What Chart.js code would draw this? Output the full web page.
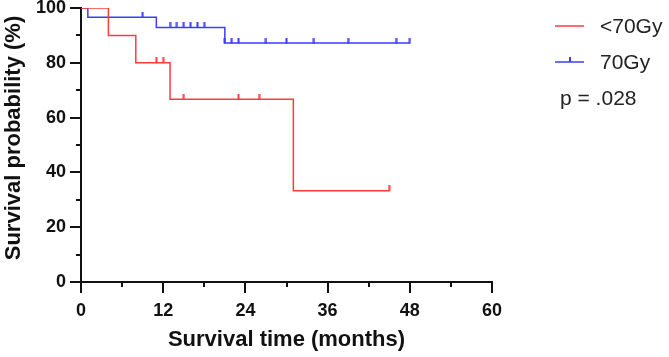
<!DOCTYPE html>
<html lang="en">
<head>
    <meta charset="UTF-8">
    <title>Survival curves</title>
    <script src="https://cdn.jsdelivr.net/npm/chart.js"></script>
    <style>
        body { margin: 0; background: #fff; }
        #wrap { width: 669px; height: 357px; }
    </style>
</head>
<body>
    <div id="wrap"><canvas id="kmChart" width="669" height="357"></canvas></div>
    <script>
        // Kaplan-Meier steps (months, %)
        var redTimes = [0, 4, 8, 13, 31, 45];
        var redSurv = [100, 90, 80, 66.7, 33.3, 33.3];
        var redCensor = [11, 12, 15, 23, 26, 45];

        var blueTimes = [0, 1, 11, 21, 48];
        var blueSurv = [100, 96.6, 92.9, 87.2, 87.2];
        var blueCensor = [9, 13, 14, 15, 16, 17, 18, 21, 22, 23, 27, 30, 34, 39, 46, 48];

        var xTicks = [0, 12, 24, 36, 48, 60];
        var yTicks = [0, 20, 40, 60, 80, 100];
        var groupNames = ['<70Gy', '70Gy'];
        var pText = 'p = .028';
        var yTitle = 'Survival probability (%)';

        var red = '#ff3c3c';
        var blue = '#3c3cff';
        var ink = '#111';
        var fam = '"Liberation Sans", Arial, sans-serif';

        // value of the step curve at time t
        function survAt(times, surv, t) {
            var v = surv[0];
            for (var i = 0; i < times.length; i++) {
                if (times[i] <= t) v = surv[i];
            }
            return v;
        }

        function stepPoints(times, surv) {
            return times.map(function (t, i) { return { x: t, y: surv[i] }; });
        }
        function censorPoints(ct, times, surv) {
            return ct.map(function (t) { return { x: t, y: survAt(times, surv, t) }; });
        }

        // small upward tick used as censor mark
        function tickImage(color) {
            var c = document.createElement('canvas');
            c.width = 3; c.height = 11;
            var g = c.getContext('2d');
            g.fillStyle = color;
            g.fillRect(0.5, 0, 2, 6);
            return c;
        }
        var redTick = tickImage(red);
        var blueTick = tickImage(blue);

        var axisTicks = {
            id: 'axisTicks',
            afterDraw: function (chart) {
                var g = chart.ctx;
                var xs = chart.scales.x, ys = chart.scales.y;
                var a = chart.chartArea;
                g.save();
                g.strokeStyle = ink;
                g.lineWidth = 2;
                xs.ticks.forEach(function (t) {
                    var px = Math.round(xs.getPixelForValue(t.value));
                    var len = xTicks.indexOf(t.value) >= 0 ? 11 : 5;
                    g.beginPath(); g.moveTo(px, a.bottom); g.lineTo(px, a.bottom + len); g.stroke();
                });
                ys.ticks.forEach(function (t) {
                    var py = Math.round(ys.getPixelForValue(t.value));
                    var len = yTicks.indexOf(t.value) >= 0 ? 11 : 5;
                    g.beginPath(); g.moveTo(a.left, py); g.lineTo(a.left - len, py); g.stroke();
                });

                // y title, a little above the axis centre as in the figure
                g.save();
                g.translate(14, 138);
                g.rotate(-Math.PI / 2);
                g.font = 'bold 22px ' + fam;
                g.fillStyle = ink;
                g.textAlign = 'center';
                g.textBaseline = 'middle';
                g.fillText(yTitle, 0, 0);
                g.restore();

                // legend
                var lx = 555, ly = [26, 62];
                var cols = [red, blue];
                g.font = '21px ' + fam;
                g.textBaseline = 'middle';
                g.textAlign = 'left';
                for (var i = 0; i < 2; i++) {
                    g.strokeStyle = cols[i];
                    g.lineWidth = 1.5;
                    g.beginPath(); g.moveTo(lx, ly[i]); g.lineTo(lx + 29, ly[i]); g.stroke();
                    if (i == 1) {
                        g.lineWidth = 2;
                        g.beginPath(); g.moveTo(lx + 15, ly[i]); g.lineTo(lx + 15, ly[i] - 5); g.stroke();
                    }
                    g.fillStyle = '#222';
                    g.fillText(groupNames[i], 600, ly[i] + 1);
                }
                g.fillText(pText, 560, 99);
                g.restore();
            }
        };

        const ctx = document.getElementById('kmChart').getContext('2d');
        const kmChart = new Chart(ctx, {
            type: 'line',
            data: {
                datasets: [
                    {
                        label: groupNames[0],
                        data: stepPoints(redTimes, redSurv),
                        borderColor: red,
                        borderWidth: 1.5,
                        stepped: 'before',
                        pointRadius: 0,
                        fill: false
                    },
                    {
                        label: groupNames[1],
                        data: stepPoints(blueTimes, blueSurv),
                        borderColor: blue,
                        borderWidth: 1.5,
                        stepped: 'before',
                        pointRadius: 0,
                        fill: false
                    },
                    {
                        label: 'censor1',
                        data: censorPoints(redCensor, redTimes, redSurv),
                        showLine: false,
                        pointStyle: redTick,
                        pointRadius: 5
                    },
                    {
                        label: 'censor2',
                        data: censorPoints(blueCensor, blueTimes, blueSurv),
                        showLine: false,
                        pointStyle: blueTick,
                        pointRadius: 5
                    }
                ]
            },
            options: {
                responsive: false,
                animation: false,
                layout: { padding: { left: 0, top: 8, right: 177, bottom: 0 } },
                plugins: {
                    legend: { display: false },
                    tooltip: { enabled: false }
                },
                scales: {
                    x: {
                        type: 'linear',
                        min: 0, max: 60,
                        afterFit: function (s) { s.height = 75; },
                        grid: { drawOnChartArea: false, tickLength: 11, tickColor: 'rgba(0,0,0,0)' },
                        border: { display: true, color: ink, width: 2 },
                        ticks: {
                            stepSize: 6,
                            padding: 7,
                            maxRotation: 0,
                            color: ink,
                            font: { family: fam, size: 18, weight: 'bold' },
                            callback: function (v) { return xTicks.indexOf(v) >= 0 ? v : ''; }
                        },
                        title: {
                            display: true,
                            text: 'Survival time (months)',
                            color: ink,
                            padding: { top: 0, bottom: 4 },
                            font: { family: fam, size: 22, weight: 'bold' }
                        }
                    },
                    y: {
                        min: 0, max: 100,
                        afterFit: function (s) { s.width = 81; s.paddingTop = 0; },
                        grid: { drawOnChartArea: false, tickLength: 11, tickColor: 'rgba(0,0,0,0)' },
                        border: { display: true, color: ink, width: 2 },
                        ticks: {
                            stepSize: 10,
                            padding: 4,
                            color: ink,
                            font: { family: fam, size: 18, weight: 'bold' },
                            callback: function (v) { return yTicks.indexOf(v) >= 0 ? v : ''; }
                        }
                    }
                }
            },
            plugins: [axisTicks]
        });
    </script>
</body>
</html>
